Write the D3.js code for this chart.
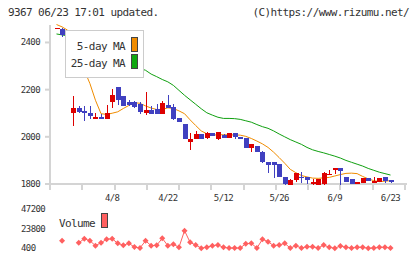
<!DOCTYPE html>
<html>
<head>
<meta charset="utf-8">
<script src="https://cdnjs.cloudflare.com/ajax/libs/d3/7.8.5/d3.min.js"></script>
<style>
  body { margin: 0; background: #fff; }
  .chart text { font-family: "DejaVu Sans Mono", monospace; fill: #333; }
  .small { font-size: 9px; letter-spacing: -0.6px; }
  .big { font-size: 11px; letter-spacing: -0.6px; }
</style>
</head>
<body>
<div class="chart"></div>
<script>
// data
var dates = ["3/25","3/26","3/27","3/28","3/31","4/1","4/2","4/3","4/4","4/7",
  "4/8","4/9","4/10","4/11","4/14","4/15","4/16","4/17","4/18","4/21",
  "4/22","4/23","4/24","4/25","4/28","4/30","5/1","5/2","5/7","5/8",
  "5/12","5/13","5/14","5/15","5/16","5/19","5/20","5/21","5/22","5/23",
  "5/26","5/27","5/28","5/29","5/30","6/2","6/3","6/4","6/5","6/6",
  "6/9","6/10","6/11","6/12","6/13","6/16","6/17","6/18","6/19","6/20","6/23"];

var open  = [2458,2457,2424,2102,2122,2111,2102,2077,2085,2077,
  2147,2211,2173,2146,2149,2139,2102,2113,2118,2098,
  2135,2126,2080,2054,1979,1991,2012,1996,2016,1991,
  2009,1996,2016,1999,1996,1954,1962,1937,1894,1892,
  1886,1831,1797,1817,1830,1828,1803,1796,1799,1839,
  1859,1868,1830,1821,1800,1804,1825,1806,1808,1830,1817];
var high  = [2462,2460,2431,2174,2130,2130,2130,2101,2098,2136,
  2202,2211,2173,2156,2153,2147,2190,2130,2139,2151,
  2177,2140,2080,2054,2017,2024,2012,2020,2016,2020,
  2014,2016,2016,1999,1996,1971,1962,1941,1894,1894,
  1886,1831,1820,1848,1851,1828,1822,1822,1852,1859,
  1868,1868,1830,1821,1808,1825,1825,1830,1825,1830,1817];
var low   = [2456,2424,2399,2047,2101,2066,2077,2077,2077,2077,
  2122,2136,2132,2130,2122,2098,2091,2098,2098,2098,
  2122,2072,2061,1990,1946,1991,1991,1992,2002,1986,
  1996,1996,1992,1992,1954,1936,1937,1890,1845,1827,
  1831,1797,1796,1810,1803,1799,1796,1796,1796,1837,
  1842,1797,1808,1800,1800,1804,1813,1806,1808,1804,1806];
var close = [2462,2431,2417,2122,2106,2100,2089,2085,2077,2102,
  2177,2156,2132,2136,2125,2105,2115,2098,2098,2144,
  2122,2077,2061,1990,1990,2010,1991,2016,2005,2020,
  1996,2016,1999,1992,1954,1971,1937,1894,1882,1882,
  1831,1800,1817,1848,1824,1817,1808,1822,1848,1844,
  1868,1855,1808,1800,1808,1825,1813,1813,1825,1813,1808];

var ma5  = [2476,2466,2452,2400,2340,2282,2226,2155,2098,2095,
  2100,2106,2120,2133,2145,2142,2131,2122,2116,2116,
  2123,2120,2110,2098,2072,2048,2025,2013,2008,2008,
  2009,2008,2008,2007,2002,1993,1982,1970,1955,1935,
  1912,1888,1862,1848,1836,1830,1825,1824,1826,1828,
  1834,1840,1845,1846,1844,1832,1822,1814,1810,1812,1814];
var ma25 = [2436,2432,2428,2415,2400,2385,2370,2357,2345,2335,
  2325,2316,2308,2300,2294,2290,2282,2266,2255,2243,
  2233,2218,2197,2176,2157,2138,2119,2102,2092,2083,
  2078,2078,2077,2074,2068,2062,2052,2043,2036,2025,
  2012,2000,1988,1978,1968,1955,1945,1938,1932,1925,
  1918,1910,1900,1892,1884,1876,1866,1858,1850,1844,1838];

var volume = [null,9400,null,null,7000,11800,9400,3500,7000,11100,
  11800,6300,4000,6300,1900,800,9400,3500,4000,12300,
  3500,5200,1600,21400,7500,4300,600,1600,3500,4300,
  1600,700,700,700,5900,6300,700,11100,8300,3500,
  4300,6300,700,3500,700,2300,2300,700,4300,1600,
  500,3100,1600,700,1600,1600,500,700,1600,1600,700];

var dateLabels = ["4/8","4/22","5/12","5/26","6/9","6/23"];
var priceTicks = [1800,2000,2200,2400];
var volTicks = [400,23800,47200];

var rows = dates.map(function(d, i) {
  return {date: d, o: open[i], h: high[i], l: low[i], c: close[i],
          ma5: ma5[i], ma25: ma25[i], v: volume[i]};
});

var svg = d3.select(".chart").append("svg")
    .attr("width", 420)
    .attr("height", 259);

// scales
var x = d3.scalePoint().domain(dates).range([56.5, 390.5]);
var xGrid = d3.scaleLinear().domain([0, 11]).range([50, 405]);
var y = d3.scaleLinear().domain([1800, 2474]).range([184, 25]);
var yv = d3.scaleLinear().domain([400, 47200]).range([248.3, 209]);

// header
svg.append("text").attr("class", "big").attr("x", 8).attr("y", 16)
    .text("9367 06/23 17:01 updated.");
svg.append("text").attr("class", "big").attr("x", 409).attr("y", 16)
    .style("text-anchor", "end")
    .text("(C)https://www.rizumu.net/");

// axes frame
var axisColor = "#d4d4d4";
svg.append("line").attr("x1", 45).attr("x2", 407).attr("y1", 184).attr("y2", 184)
    .attr("stroke", axisColor).attr("stroke-width", 2);
svg.append("line").attr("x1", 50).attr("x2", 50).attr("y1", 25).attr("y2", 190)
    .attr("stroke", axisColor).attr("stroke-width", 2);

svg.selectAll(".xtick")
    .data(d3.range(0, 12))
  .enter().append("line")
    .attr("class", "xtick")
    .attr("x1", function(d){ return Math.round(xGrid(d)); })
    .attr("x2", function(d){ return Math.round(xGrid(d)); })
    .attr("y1", 184).attr("y2", 190)
    .attr("stroke", axisColor).attr("stroke-width", 2);

svg.selectAll(".ytick")
    .data(priceTicks)
  .enter().append("line")
    .attr("class", "ytick")
    .attr("x1", 45).attr("x2", 50)
    .attr("y1", function(d){ return y(d); })
    .attr("y2", function(d){ return y(d); })
    .attr("stroke", axisColor).attr("stroke-width", 2);

svg.selectAll(".ylabel")
    .data(priceTicks)
  .enter().append("text")
    .attr("class", "small")
    .attr("x", 40)
    .attr("y", function(d){ return y(d) + 3; })
    .style("text-anchor", "end")
    .text(function(d){ return d; });

svg.selectAll(".xlabel")
    .data(dateLabels)
  .enter().append("text")
    .attr("class", "small")
    .attr("x", function(d){ return x(d); })
    .attr("y", 201)
    .style("text-anchor", "middle")
    .text(function(d){ return d; });

// moving averages
var lineMa = function(key) {
  return d3.line()
    .x(function(d){ return x(d.date); })
    .y(function(d){ return y(d[key]); });
};
svg.append("path").datum(rows)
    .attr("fill", "none").attr("stroke", "#10a010").attr("stroke-width", 1)
    .attr("d", lineMa("ma25"));
svg.append("path").datum(rows)
    .attr("fill", "none").attr("stroke", "#f08c00").attr("stroke-width", 1)
    .attr("d", lineMa("ma5"));

// candles
var candle = svg.selectAll(".candle")
    .data(rows)
  .enter().append("g")
    .attr("class", "candle")
    .attr("shape-rendering", "crispEdges");

var colorOf = function(d){ return d.c >= d.o ? "#dd0000" : "#4040c0"; };

candle.append("line")
    .attr("x1", function(d){ return Math.round(x(d.date)) + 0.5; })
    .attr("x2", function(d){ return Math.round(x(d.date)) + 0.5; })
    .attr("y1", function(d){ return y(d.h); })
    .attr("y2", function(d){ return y(d.l); })
    .attr("stroke", colorOf);

candle.append("rect")
    .attr("x", function(d){ return Math.round(x(d.date)) - 2; })
    .attr("width", 5)
    .attr("y", function(d){ return y(Math.max(d.o, d.c)); })
    .attr("height", function(d){ return Math.max(1.5, Math.abs(y(d.o) - y(d.c))); })
    .attr("fill", colorOf);

// legend
svg.append("rect").attr("x", 65.5).attr("y", 30.5).attr("width", 78).attr("height", 47)
    .attr("fill", "#fff").attr("stroke", "#cccccc");
svg.append("text").attr("class", "big").attr("x", 125).attr("y", 50)
    .style("text-anchor", "end").text("5-day MA");
svg.append("text").attr("class", "big").attr("x", 125).attr("y", 67)
    .style("text-anchor", "end").text("25-day MA");
svg.append("rect").attr("x", 131.5).attr("y", 37.5).attr("width", 6).attr("height", 14)
    .attr("fill", "#f08c00").attr("stroke", "#444");
svg.append("rect").attr("x", 131.5).attr("y", 54.5).attr("width", 6).attr("height", 14)
    .attr("fill", "#10a810").attr("stroke", "#444");

// volume
svg.selectAll(".vlabel")
    .data(volTicks)
  .enter().append("text")
    .attr("class", "small")
    .attr("x", 21)
    .attr("y", function(d){ return yv(d) + 3; })
    .text(function(d){ return d; });

svg.append("path").datum(rows)
    .attr("fill", "none").attr("stroke", "#ff6060").attr("stroke-width", 1)
    .attr("d", d3.line()
      .defined(function(d){ return d.v != null; })
      .x(function(d){ return x(d.date); })
      .y(function(d){ return yv(d.v); }));

svg.selectAll(".vpoint")
    .data(rows.filter(function(d){ return d.v != null; }))
  .enter().append("path")
    .attr("class", "vpoint")
    .attr("transform", function(d){ return "translate(" + x(d.date) + "," + yv(d.v) + ") rotate(45)"; })
    .attr("d", d3.symbol().type(d3.symbolSquare).size(18))
    .attr("fill", "#ff6060");

svg.append("text").attr("class", "big").attr("x", 59).attr("y", 227).text("Volume");
svg.append("rect").attr("x", 101.5).attr("y", 213.5).attr("width", 6).attr("height", 14)
    .attr("fill", "#ff6060").attr("stroke", "#444");
</script>
</body>
</html>
